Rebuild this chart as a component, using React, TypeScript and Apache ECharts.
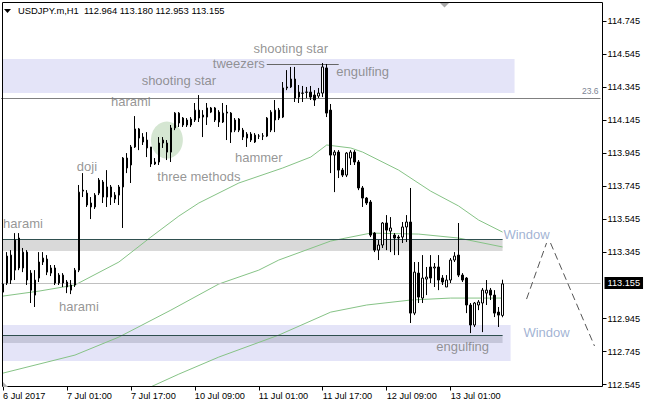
import { useEffect, useRef } from 'react';
import * as echarts from 'echarts';

const titleText = 'USDJPY.m,H1  112.964 113.180 112.953 113.155';
const slotCount = 150;
const xTickIndex = [0, 16, 32, 48, 64, 80, 96, 112];
const xTickLabels = ['6 Jul 2017', '7 Jul 01:00', '7 Jul 17:00', '10 Jul 09:00', '11 Jul 01:00', '11 Jul 17:00', '12 Jul 09:00', '13 Jul 01:00'];
const yTickValues = [112.545, 112.745, 112.945, 113.345, 113.545, 113.745, 113.945, 114.145, 114.345, 114.545, 114.745];
const yMin = 112.534;
const yMax = 114.857;
const lastPrice = 113.155;
const fibPrice = 114.285;
const fibLabel = '23.6';

// [open, close, low, high]
const candles = [
  [113.105, 113.154, 113.081, 113.287],
  [113.323, 113.160, 113.148, 113.347],
  [113.178, 113.329, 113.154, 113.359],
  [113.238, 113.420, 113.178, 113.462],
  [113.432, 113.251, 113.238, 113.462],
  [113.251, 113.347, 113.226, 113.372],
  [113.347, 113.178, 113.148, 113.359],
  [113.220, 113.117, 113.039, 113.238],
  [113.178, 113.087, 113.015, 113.238],
  [113.190, 113.287, 113.166, 113.347],
  [113.287, 113.311, 113.269, 113.347],
  [113.305, 113.226, 113.208, 113.329],
  [113.220, 113.251, 113.202, 113.269],
  [113.251, 113.160, 113.148, 113.269],
  [113.208, 113.160, 113.148, 113.220],
  [113.160, 113.208, 113.136, 113.220],
  [113.166, 113.136, 113.099, 113.178],
  [113.117, 113.148, 113.093, 113.178],
  [113.148, 113.238, 113.136, 113.251],
  [113.238, 113.710, 113.226, 113.753],
  [113.722, 113.716, 113.680, 113.825],
  [113.704, 113.632, 113.620, 113.722],
  [113.644, 113.620, 113.547, 113.680],
  [113.620, 113.692, 113.608, 113.704],
  [113.704, 113.783, 113.692, 113.795],
  [113.771, 113.680, 113.644, 113.783],
  [113.741, 113.680, 113.620, 113.843],
  [113.741, 113.680, 113.632, 113.753],
  [113.668, 113.692, 113.644, 113.710],
  [113.692, 113.741, 113.632, 113.753],
  [113.741, 113.916, 113.493, 113.922],
  [113.916, 113.856, 113.825, 113.946],
  [113.874, 113.983, 113.765, 113.995],
  [113.983, 114.092, 113.977, 114.170],
  [114.092, 114.037, 113.964, 114.098],
  [114.043, 114.013, 113.995, 114.067],
  [114.025, 113.977, 113.922, 114.073],
  [113.983, 113.880, 113.862, 113.983],
  [113.880, 113.892, 113.874, 113.916],
  [113.892, 114.007, 113.874, 114.043],
  [114.025, 114.007, 113.977, 114.043],
  [114.007, 113.952, 113.904, 114.025],
  [113.952, 114.098, 113.892, 114.116],
  [114.098, 114.188, 114.085, 114.194],
  [114.128, 114.188, 114.104, 114.194],
  [114.158, 114.116, 114.104, 114.164],
  [114.146, 114.116, 114.104, 114.158],
  [114.116, 114.152, 114.104, 114.164],
  [114.146, 114.206, 114.134, 114.249],
  [114.206, 114.158, 114.134, 114.297],
  [114.176, 114.164, 114.043, 114.206],
  [114.164, 114.219, 114.116, 114.249],
  [114.219, 114.194, 114.188, 114.225],
  [114.219, 114.146, 114.134, 114.225],
  [114.194, 114.134, 114.104, 114.206],
  [114.134, 114.188, 114.128, 114.249],
  [114.194, 114.188, 114.025, 114.237],
  [114.188, 114.073, 114.007, 114.194],
  [114.085, 114.146, 114.073, 114.158],
  [114.152, 114.085, 114.073, 114.158],
  [114.085, 114.043, 114.025, 114.098],
  [114.037, 114.061, 113.983, 114.073],
  [114.061, 114.025, 114.013, 114.073],
  [114.013, 114.055, 114.007, 114.067],
  [114.049, 114.049, 114.031, 114.061],
  [114.049, 114.050, 114.025, 114.067],
  [114.049, 114.158, 114.043, 114.164],
  [114.085, 114.194, 114.073, 114.206],
  [114.146, 114.206, 114.073, 114.267],
  [114.206, 114.158, 114.146, 114.219],
  [114.164, 114.340, 114.158, 114.376],
  [114.346, 114.340, 114.327, 114.448],
  [114.346, 114.394, 114.340, 114.467],
  [114.394, 114.279, 114.255, 114.467],
  [114.315, 114.285, 114.249, 114.358],
  [114.309, 114.308, 114.255, 114.352],
  [114.315, 114.314, 114.279, 114.346],
  [114.315, 114.285, 114.267, 114.352],
  [114.297, 114.267, 114.231, 114.327],
  [114.291, 114.309, 114.279, 114.340],
  [114.309, 114.467, 114.285, 114.491],
  [114.461, 114.188, 114.164, 114.485],
  [114.206, 113.934, 113.825, 114.243],
  [113.934, 113.952, 113.710, 113.964],
  [113.952, 113.843, 113.795, 113.964],
  [113.843, 113.813, 113.801, 113.856],
  [113.813, 113.946, 113.801, 113.952],
  [113.916, 113.952, 113.874, 113.964],
  [113.952, 113.892, 113.874, 113.964],
  [113.892, 113.735, 113.722, 113.904],
  [113.735, 113.674, 113.620, 113.747],
  [113.674, 113.644, 113.632, 113.680],
  [113.650, 113.450, 113.438, 113.662],
  [113.462, 113.359, 113.347, 113.468],
  [113.359, 113.390, 113.299, 113.420],
  [113.390, 113.523, 113.372, 113.529],
  [113.523, 113.480, 113.359, 113.571],
  [113.474, 113.493, 113.347, 113.559],
  [113.450, 113.432, 113.329, 113.462],
  [113.438, 113.432, 113.329, 113.450],
  [113.438, 113.499, 113.402, 113.529],
  [113.499, 113.529, 113.408, 113.571],
  [113.529, 112.978, 112.918, 113.735],
  [112.978, 113.226, 112.966, 113.287],
  [113.220, 113.075, 113.039, 113.287],
  [113.069, 113.190, 113.039, 113.329],
  [113.184, 113.196, 113.087, 113.257],
  [113.257, 113.190, 113.160, 113.329],
  [113.251, 113.257, 113.136, 113.281],
  [113.257, 113.178, 113.117, 113.329],
  [113.190, 113.166, 113.148, 113.208],
  [113.136, 113.178, 113.136, 113.208],
  [113.178, 113.299, 113.160, 113.311],
  [113.299, 113.323, 113.287, 113.347],
  [113.329, 113.208, 113.196, 113.523],
  [113.208, 113.178, 113.166, 113.220],
  [113.190, 113.027, 112.978, 113.196],
  [113.027, 112.906, 112.857, 113.039],
  [112.906, 113.039, 112.894, 113.045],
  [113.027, 113.045, 112.996, 113.057],
  [113.039, 113.117, 112.863, 113.130],
  [113.099, 113.117, 113.027, 113.178],
  [113.117, 113.087, 113.057, 113.130],
  [113.087, 112.978, 112.954, 113.117],
  [112.984, 112.966, 112.894, 113.015],
  [112.964, 113.155, 112.953, 113.180],
];

// moving averages: [bar index, price]
const maFast = [
  [0, 113.081], [9, 113.111], [18, 113.148], [29, 113.287], [37, 113.438], [44, 113.565],
  [49, 113.644], [59, 113.765], [70, 113.856], [77, 113.922], [81, 113.995], [87, 113.977],
  [90, 113.952], [99, 113.843], [107, 113.716], [114, 113.626], [119, 113.541], [125, 113.468],
];
const maMid = [
  [0, 112.615], [18, 112.724], [29, 112.833], [42, 112.996], [54, 113.154], [64, 113.238],
  [69, 113.299], [82, 113.414], [92, 113.462], [104, 113.456], [114, 113.432], [125, 113.378],
];
const maSlow = [
  [35, 112.51], [44, 112.609], [54, 112.712], [69, 112.845], [82, 112.984], [91, 113.027],
  [102, 113.057], [112, 113.069], [125, 113.069],
];

// zones: [fromBar, toBar, upperPrice, lowerPrice, colour]
const zones: [number, number, number, number, string][] = [
  [0, 128, 114.515, 114.309, '#e4e4f8'],
  [0, 125, 113.426, 113.354, '#d9d9d9'],
  [0, 127, 112.906, 112.688, '#e4e4f8'],
  [0, 125, 112.845, 112.797, '#c5c6da'],
];
// level lines: [fromBar, toBar, price, colour]
const levelLines: [number, number, number, string][] = [
  [0, 125, 113.426, '#2f4f4f'],
  [0, 125, 112.845, '#2f4f4f'],
  [66, 84, 114.485, '#666666'],
];
const windowLines = [
  [[131, 113.063], [136, 113.402]],
  [[137, 113.402], [148, 112.779]],
];
const annotations: [number, number, string][] = [
  [72, 114.576, 'shooting star'],
  [59, 114.491, 'tweezers'],
  [90, 114.442, 'engulfing'],
  [44, 114.388, 'shooting star'],
  [32, 114.261, 'harami'],
  [21, 113.862, 'doji'],
  [49, 113.807, 'three methods'],
  [64, 113.922, 'hammer'],
  [5, 113.523, 'harami'],
  [19, 113.015, 'harami'],
  [115, 112.773, 'engulfing'],
  [131, 113.456, 'Window'],
  [136, 112.863, 'Window'],
];
const highlight = [41, 114.025];

export default function App() {
  const ref = useRef<HTMLDivElement>(null);
  useEffect(() => {
    const chart = echarts.init(ref.current as HTMLDivElement, null, { renderer: 'svg' });
    const categories = Array.from({ length: slotCount }, (_, i) => String(i));
    const tickSet = new Set(xTickIndex);
    const smallFont = 'Liberation Sans';
    chart.setOption({
      animation: false,
      backgroundColor: '#ffffff',
      grid: { left: 0.5, top: 2.5, width: 600, height: 384 },
      graphic: [
        { type: 'rect', shape: { x: 2.5, y: 2.5, width: 600, height: 384 }, style: { fill: 'none', stroke: '#000', lineWidth: 1 }, z: 10, silent: true },
        { type: 'polygon', shape: { points: [[4, 9], [11, 9], [7.5, 13]] }, style: { fill: '#000' }, z: 10 },
        { type: 'text', x: 18, y: 6, style: { text: titleText, fill: '#000', font: `9.4px "${smallFont}"` }, z: 10 },
        { type: 'polygon', shape: { points: [[440, 3], [449, 3], [444.5, 7.5]] }, style: { fill: '#a8a8a8' }, z: 10 },
        { type: 'polygon', shape: { points: [[3, 382], [3, 387], [8, 387]] }, style: { fill: '#b0b0b0' }, z: 10 },
      ],
      xAxis: {
        type: 'category',
        data: categories,
        boundaryGap: true,
        axisLine: { show: false },
        axisTick: { show: true, alignWithLabel: true, length: 4, interval: (i: number) => tickSet.has(i), lineStyle: { color: '#000' } },
        axisLabel: {
          show: true,
          interval: (i: number) => tickSet.has(i),
          formatter: (_v: string, i: number) => {
            const k = xTickIndex.indexOf(i);
            return k >= 0 ? xTickLabels[k] : '';
          },
          align: 'left',
          color: '#000',
          fontSize: 9.2,
          fontFamily: smallFont,
          margin: 5,
        },
        splitLine: { show: false },
      },
      yAxis: {
        type: 'value',
        position: 'right',
        offset: 2,
        min: yMin,
        max: yMax,
        axisLine: { show: false },
        axisTick: { show: true, length: 4, customValues: yTickValues, lineStyle: { color: '#000' } },
        axisLabel: {
          customValues: yTickValues,
          formatter: (v: number) => v.toFixed(3),
          color: '#000',
          fontSize: 9.2,
          fontFamily: smallFont,
          margin: 5,
        },
        splitLine: { show: false },
      },
      series: [
        {
          type: 'line',
          data: [],
          silent: true,
          markArea: {
            silent: true,
            z: 1,
            data: zones.map((zn) => [
              { xAxis: zn[0], yAxis: zn[2], itemStyle: { color: zn[4], opacity: 1 } },
              { xAxis: zn[1], yAxis: zn[3] },
            ]),
          },
          markLine: {
            silent: true,
            z: 4,
            symbol: ['none', 'none'],
            label: { show: false },
            lineStyle: { type: 'solid', width: 1 },
            data: [
              {
                yAxis: fibPrice,
                lineStyle: { color: '#808080', type: 'solid', width: 1 },
                label: { show: true, position: 'insideEndTop', formatter: fibLabel, color: '#7d8593', fontSize: 8.5, fontFamily: smallFont, distance: 2 },
              },
              {
                yAxis: lastPrice,
                lineStyle: { color: '#c0c0c0', type: 'solid', width: 1 },
                label: { show: true, position: 'end', formatter: lastPrice.toFixed(3), color: '#fff', backgroundColor: '#000', padding: [2, 3, 1, 3], fontSize: 9.2, fontFamily: smallFont, distance: 4 },
              },
              ...levelLines.map((l) => [
                { coord: [l[0], l[2]], lineStyle: { color: l[3], type: 'solid', width: 1 } },
                { coord: [l[1], l[2]] },
              ]),
              ...windowLines.map((w) => [
                { coord: w[0], lineStyle: { color: '#555555', type: [7, 4], width: 1 } },
                { coord: w[1] },
              ]),
            ],
          },
        },
        {
          type: 'scatter',
          z: 2,
          silent: true,
          symbol: 'circle',
          symbolSize: [32, 37],
          data: [highlight],
          itemStyle: { color: '#d5e6d2', opacity: 1 },
        },
        ...[maFast, maMid, maSlow].map((d) => ({
          type: 'line',
          z: 3,
          silent: true,
          data: d,
          showSymbol: false,
          symbol: 'none',
          lineStyle: { color: '#86c386', width: 1 },
        })),
        {
          type: 'candlestick',
          z: 5,
          data: candles,
          barWidth: 2,
          itemStyle: {
            color: '#ffffff',
            color0: '#000000',
            borderColor: '#000000',
            borderColor0: '#000000',
            borderColorDoji: '#000000',
            borderWidth: 1,
          },
        },
        {
          type: 'scatter',
          z: 6,
          silent: true,
          symbol: 'circle',
          symbolSize: 1,
          itemStyle: { color: 'rgba(0,0,0,0)' },
          data: annotations.map((a) => ({
            value: [a[0], a[1]],
            name: a[2],
            label: { color: a[2] === 'Window' ? '#8aa0c8' : '#7a7a7a' },
          })),
          label: { show: true, position: 'inside', formatter: '{b}', fontSize: 13, fontFamily: smallFont },
        },
      ],
    });
    return () => chart.dispose();
  }, []);
  return <div ref={ref} style={{ position: 'absolute', left: 0, top: 0, width: 645, height: 409 }} />;
}
